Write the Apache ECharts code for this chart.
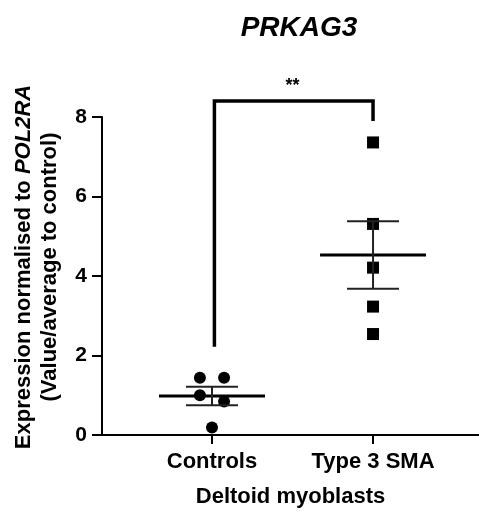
<!DOCTYPE html>
<html>
<head>
<meta charset="utf-8">
<script src="https://cdn.jsdelivr.net/npm/echarts@6/dist/echarts.min.js"></script>
<style>html,body{margin:0;padding:0;background:#fff;}#c{width:479px;height:519px;}</style>
</head>
<body>
<div id="c"></div>
<script>
var categories = ['Controls', 'Type 3 SMA'];
var controlValues = [1.44, 1.44, 1.00, 0.84, 0.19];
var controlJitter = [-0.075, 0.075, -0.075, 0.075, 0];
var smaValues = [7.36, 5.31, 4.21, 3.23, 2.54];
var smaJitter = [0, 0, 0, 0, 0];
var yTicks = [0, 2, 4, 6, 8];
var bracketY = [2.22, 8.4, 7.9];
var sigLabel = '**';

var FONT = 'Arial, "Liberation Sans", sans-serif';

function stats(arr) {
  var n = arr.length, m = 0, i;
  for (i = 0; i < n; i++) m += arr[i];
  m /= n;
  var ss = 0;
  for (i = 0; i < n; i++) ss += (arr[i] - m) * (arr[i] - m);
  var sem = Math.sqrt(ss / (n - 1)) / Math.sqrt(n);
  return [m, m - sem, m + sem];
}
var sc = stats(controlValues), ss = stats(smaValues);
var summary = [[1, sc[0], sc[1], sc[2]], [2, ss[0], ss[1], ss[2]]];

var chart = echarts.init(document.getElementById('c'), null, {renderer: 'canvas'});
chart.setOption({
  animation: false,
  backgroundColor: '#fff',
  title: {
    text: 'PRKAG3', left: 294, top: 9, textAlign: 'center',
    textStyle: {fontFamily: FONT, fontSize: 28, fontWeight: 'bold', fontStyle: 'italic', color: '#000'}
  },
  grid: {left: 102, right: 0, top: 117, bottom: 84, containLabel: false},
  xAxis: {
    type: 'value', min: 0.317, max: 2.658,
    splitLine: {show: false},
    axisLine: {lineStyle: {color: '#000', width: 2}},
    axisTick: {show: true, customValues: [1, 2], length: 9, lineStyle: {color: '#000', width: 2}},
    axisLabel: {show: true, customValues: [1, 2], margin: 16,
      formatter: function (v) { return categories[Math.round(v) - 1] || ''; },
      fontFamily: FONT, fontSize: 22, fontWeight: 'bold', color: '#000'},
    name: 'Deltoid myoblasts', nameLocation: 'middle', nameGap: 51,
    nameTextStyle: {fontFamily: FONT, fontSize: 22, fontWeight: 'bold', color: '#000'}
  },
  yAxis: {
    type: 'value', min: 0, max: 8, interval: 2,
    splitLine: {show: false},
    axisLine: {show: true, lineStyle: {color: '#000', width: 2}},
    axisTick: {show: true, length: 10, lineStyle: {color: '#000', width: 2}},
    axisLabel: {margin: 15, fontFamily: FONT, fontSize: 21, fontWeight: 'bold', color: '#000',
      formatter: function (v) { return yTicks.indexOf(v) >= 0 ? String(v) : ''; }}
  },
  graphic: [{
    type: 'text', x: 37, y: 267, rotation: Math.PI / 2,
    style: {
      text: 'Expression normalised to {i|POL2RA}\n(Value/average to control)',
      align: 'center', verticalAlign: 'middle', lineHeight: 26,
      fontFamily: FONT, fontSize: 22, fontWeight: 'bold', fill: '#000',
      rich: {i: {fontFamily: FONT, fontSize: 22, fontWeight: 'bold', fontStyle: 'italic', fill: '#000', lineHeight: 26}}
    }
  }],
  series: [
    {
      type: 'scatter', symbol: 'circle', symbolSize: 12, z: 2,
      itemStyle: {color: '#000', opacity: 1},
      data: controlValues.map(function (v, i) { return [1 + controlJitter[i], v]; })
    },
    {
      type: 'scatter', symbol: 'rect', symbolSize: 12, z: 2,
      itemStyle: {color: '#000', opacity: 1},
      data: smaValues.map(function (v, i) { return [2 + smaJitter[i], v]; })
    },
    {
      type: 'custom', z: 3,
      renderItem: function (params, api) {
        var x = api.value(0);
        var pm = api.coord([x, api.value(1)]);
        var plo = api.coord([x, api.value(2)]);
        var phi = api.coord([x, api.value(3)]);
        var thin = {stroke: '#222', lineWidth: 2};
        return {type: 'group', children: [
          {type: 'line', shape: {x1: pm[0] - 53, y1: pm[1], x2: pm[0] + 53, y2: pm[1]}, style: {stroke: '#000', lineWidth: 3}},
          {type: 'line', shape: {x1: pm[0], y1: plo[1], x2: pm[0], y2: phi[1]}, style: thin},
          {type: 'line', shape: {x1: pm[0] - 26, y1: plo[1], x2: pm[0] + 26, y2: plo[1]}, style: thin},
          {type: 'line', shape: {x1: pm[0] - 26, y1: phi[1], x2: pm[0] + 26, y2: phi[1]}, style: thin}
        ]};
      },
      data: summary
    },
    {
      type: 'line', clip: false, symbol: 'none', z: 4,
      lineStyle: {color: '#000', width: 3.5, join: 'miter', cap: 'butt'},
      data: [[1.015, bracketY[0]], [1.015, bracketY[1]], [2, bracketY[1]], [2, bracketY[2]]]
    },
    {
      type: 'scatter', symbol: 'circle', symbolSize: 1, clip: false, z: 4,
      itemStyle: {opacity: 0},
      label: {show: true, position: 'top', distance: 6, formatter: sigLabel, opacity: 1,
        fontFamily: FONT, fontSize: 18, fontWeight: 'bold', color: '#000'},
      emphasis: {disabled: true},
      data: [[1.5, bracketY[1]]]
    }
  ]
});
</script>
</body>
</html>
